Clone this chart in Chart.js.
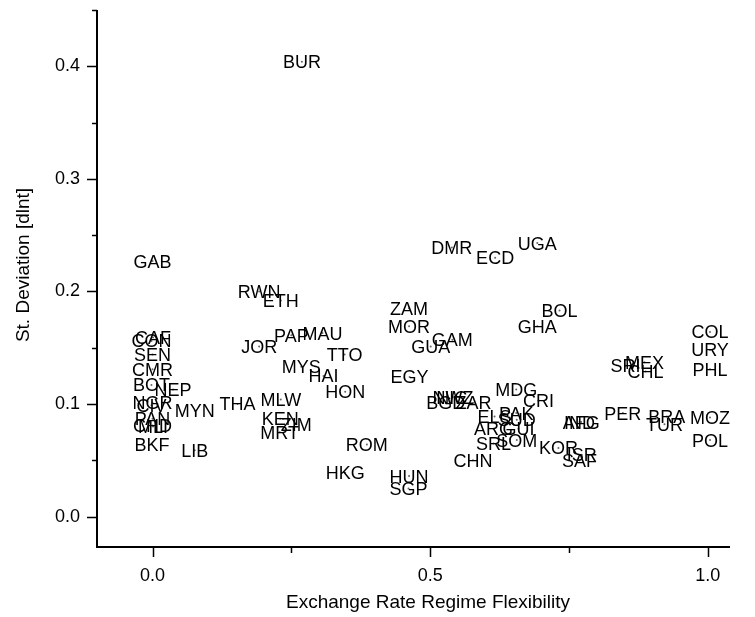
<!DOCTYPE html>
<html>
<head>
<meta charset="utf-8">
<title>Exchange rate regime flexibility vs st. deviation</title>
<script src="https://cdn.jsdelivr.net/npm/chart.js@4.4.1/dist/chart.umd.min.js"></script>
<style>
  html, body { margin:0; padding:0; background:#fff; }
  #wrap { width:755px; height:617px; }
</style>
</head>
<body>
<div id="wrap"><canvas id="scatter" width="755" height="617"></canvas></div>
<script>
// -------- data --------
// country code, regime flexibility (x) and st. deviation of dlnt (y)
const countries   = ['BUR','GAB','RWN','ETH','CAF','CON','SEN','CMR','BOT','NEP',
                     'NGR','CIV','MYN','PAN','CHD','MLI','BKF','LIB','THA','JOR',
                     'PAP','MAU','MYS','HAI','TTO','HON','MLW','KEN','ZIM','MRT',
                     'ROM','HKG','HUN','SGP','ZAM','MOR','EGY','GUA','GAM','DMR',
                     'ECD','UGA','BOL','GHA','NIC','NWZ','BGD','ZAR','MDG','CRI',
                     'ELS','PAK','SUD','ARG','GUI','SRL','SOM','CHN','KOR','ISR',
                     'SAF','IND','AFG','PER','SRI','MEX','CHL','BRA','TUR','MOZ',
                     'POL','COL','URY','PHL'];
const flexibility = [0.269, 0.000, 0.192, 0.231, 0.001,-0.002, 0.000, 0.000,-0.002, 0.037,
                     0.000,-0.002, 0.076, 0.000, 0.000, 0.001,-0.001, 0.076, 0.153, 0.192,
                     0.250, 0.306, 0.268, 0.308, 0.346, 0.347, 0.231, 0.230, 0.259, 0.229,
                     0.386, 0.347, 0.462, 0.461, 0.462, 0.462, 0.463, 0.501, 0.540, 0.539,
                     0.617, 0.693, 0.733, 0.693, 0.539, 0.541, 0.528, 0.578, 0.655, 0.695,
                     0.616, 0.655, 0.656, 0.614, 0.659, 0.614, 0.656, 0.577, 0.731, 0.773,
                     0.769, 0.769, 0.772, 0.847, 0.852, 0.886, 0.888, 0.926, 0.922, 1.004,
                     1.004, 1.004, 1.004, 1.004];
const stDev       = [0.404, 0.227, 0.200, 0.192, 0.159, 0.156, 0.144, 0.131, 0.117, 0.113,
                     0.101, 0.099, 0.094, 0.087, 0.081, 0.080, 0.064, 0.059, 0.100, 0.151,
                     0.161, 0.163, 0.133, 0.125, 0.144, 0.111, 0.104, 0.087, 0.082, 0.075,
                     0.064, 0.039, 0.036, 0.025, 0.185, 0.169, 0.124, 0.151, 0.157, 0.239,
                     0.230, 0.243, 0.183, 0.169, 0.106, 0.106, 0.101, 0.101, 0.113, 0.103,
                     0.089, 0.092, 0.086, 0.078, 0.078, 0.065, 0.068, 0.050, 0.061, 0.055,
                     0.050, 0.084, 0.084, 0.092, 0.134, 0.137, 0.129, 0.089, 0.082, 0.088,
                     0.068, 0.164, 0.148, 0.131];

// tick positions; empty label = minor tick
const xTicks      = [0, 0.25, 0.5, 0.75, 1.0];
const xTickLabels = ['0.0', '', '0.5', '', '1.0'];
const yTicks      = [0, 0.05, 0.1, 0.15, 0.2, 0.25, 0.3, 0.35, 0.4, 0.45];
const yTickLabels = ['0.0', '', '0.1', '', '0.2', '', '0.3', '', '0.4', ''];

const FONT = 'Liberation Sans, Arial, sans-serif';

// Origin-style axes: left + bottom line only, outward ticks (long = major, short = minor)
const axesPlugin = {
  id: 'originAxes',
  afterDraw(chart){
    const { ctx, chartArea:a, scales:{ x, y } } = chart;
    ctx.save();
    ctx.strokeStyle = '#000';
    ctx.lineWidth = 2;
    ctx.beginPath();
    ctx.moveTo(a.left, a.top);
    ctx.lineTo(a.left, a.bottom);
    ctx.lineTo(a.right, a.bottom);
    ctx.stroke();

    ctx.lineWidth = 1.5;
    ctx.beginPath();
    yTicks.forEach((v, i) => {
      const py = Math.round(y.getPixelForValue(v)) + 0.5;
      ctx.moveTo(a.left, py);
      ctx.lineTo(a.left - (yTickLabels[i] ? 10 : 5), py);
    });
    xTicks.forEach((v, i) => {
      const px = Math.round(x.getPixelForValue(v)) + 0.5;
      ctx.moveTo(px, a.bottom);
      ctx.lineTo(px, a.bottom + (xTickLabels[i] ? 10 : 6));
    });
    ctx.stroke();

    // axis titles
    ctx.fillStyle = '#000';
    ctx.font = `19px ${FONT}`;
    ctx.textAlign = 'center';
    ctx.textBaseline = 'middle';
    ctx.fillText('Exchange Rate Regime Flexibility', 428, 603);
    ctx.translate(24, 265);
    ctx.rotate(-Math.PI / 2);
    ctx.fillText('St. Deviation [dlnt]', 0, 0);
    ctx.restore();
  }
};

// country codes written centred on each point
const labelPlugin = {
  id: 'pointLabels',
  afterDatasetsDraw(chart){
    const { ctx } = chart;
    const pts = chart.getDatasetMeta(0).data;
    ctx.save();
    ctx.fillStyle = '#000';
    ctx.font = `18px ${FONT}`;
    ctx.textAlign = 'center';
    ctx.textBaseline = 'middle';
    pts.forEach((p, i) => ctx.fillText(countries[i], p.x, p.y + 1.5)); // +1.5: cap centre sits on the point
    ctx.restore();
  }
};

const points = flexibility.map((v, i) => ({ x: v, y: stDev[i] }));

new Chart(document.getElementById('scatter'), {
  type: 'scatter',
  data: {
    datasets: [{
      data: points,
      pointRadius: 1,
      pointHoverRadius: 1,
      backgroundColor: '#666',
      borderWidth: 0
    }]
  },
  options: {
    responsive: false,
    animation: false,
    events: [],
    layout: { padding: { top: 10, right: 25, left: 0, bottom: 0 } },
    plugins: { legend: { display: false }, tooltip: { enabled: false } },
    scales: {
      x: {
        type: 'linear', min: -0.1, max: 1.04,
        grid: { display: false, drawTicks: false },
        border: { display: false },
        afterBuildTicks: s => { s.ticks = xTicks.map(v => ({ value: v })); },
        afterFit: s => { s.height = 70; s.paddingLeft = 0; s.paddingRight = 0; },
        ticks: {
          autoSkip: false, maxRotation: 0, padding: 18,
          color: '#000', font: { family: FONT, size: 18 },
          callback: (v, i) => xTickLabels[i]
        }
      },
      y: {
        type: 'linear', min: -0.027, max: 0.45,
        grid: { display: false, drawTicks: false },
        border: { display: false },
        afterBuildTicks: s => { s.ticks = yTicks.map(v => ({ value: v })); },
        afterFit: s => { s.width = 97; s.paddingTop = 0; s.paddingBottom = 0; },
        ticks: {
          autoSkip: false, padding: 17,
          color: '#000', font: { family: FONT, size: 18 },
          callback: (v, i) => yTickLabels[i]
        }
      }
    }
  },
  plugins: [axesPlugin, labelPlugin]
});
</script>
</body>
</html>
